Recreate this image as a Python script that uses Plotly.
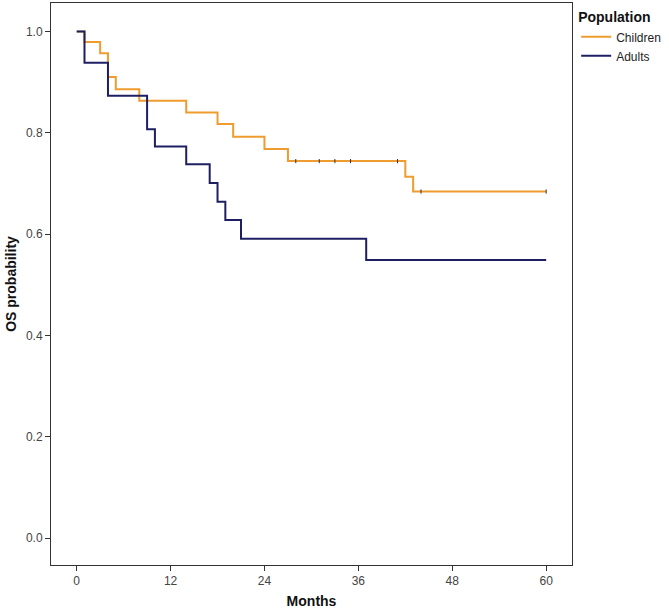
import plotly.graph_objects as go

# Kaplan-Meier step data
children_t = [0, 1, 3, 4, 5, 8, 14, 18, 20, 24, 27, 42, 43, 60]
children_s = [1.0, 0.979, 0.957, 0.910, 0.886, 0.863, 0.840, 0.817, 0.792, 0.768, 0.744, 0.713, 0.684, 0.684]
children_cens_t = [28, 31, 33, 35, 41, 44, 60]
children_cens_s = [0.744, 0.744, 0.744, 0.744, 0.744, 0.684, 0.684]

adults_t = [0, 1, 4, 9, 10, 14, 17, 18, 19, 21, 37, 60]
adults_s = [1.0, 0.938, 0.873, 0.807, 0.773, 0.738, 0.701, 0.664, 0.628, 0.591, 0.549, 0.549]

x_ticks = [0, 12, 24, 36, 48, 60]
y_ticks = [0.0, 0.2, 0.4, 0.6, 0.8, 1.0]

ORANGE = "#EE9C2E"
NAVY = "#1E1F63"

fig = go.Figure()
fig.add_trace(go.Scatter(x=children_t, y=children_s, mode="lines", line_shape="hv",
                         line=dict(color=ORANGE, width=2), name="Children"))
fig.add_trace(go.Scatter(x=adults_t, y=adults_s, mode="lines", line_shape="hv",
                         line=dict(color=NAVY, width=2), name="Adults"))
fig.add_trace(go.Scatter(x=children_cens_t, y=children_cens_s, mode="markers",
                         marker=dict(symbol="line-ns-open", size=3, color="#333333",
                                     line=dict(color="#333333", width=1)),
                         showlegend=False, hoverinfo="skip"))

fig.update_layout(
    width=669, height=610,
    margin=dict(l=51, r=91, t=3, b=45),
    plot_bgcolor="white", paper_bgcolor="white",
    font=dict(family="Liberation Sans, Arial, sans-serif", size=12, color="#444444"),
    showlegend=True,
    legend=dict(
        title=dict(text="<b>Population</b>", font=dict(size=14, color="#111111")),
        x=1.008, y=0.998, xanchor="left", yanchor="top",
        font=dict(size=12, color="#222222"),
        bgcolor="rgba(0,0,0,0)", tracegroupgap=0, itemwidth=30,
    ),
    xaxis=dict(
        range=[-3.28, 63.3], tickvals=x_ticks, ticktext=[str(v) for v in x_ticks],
        showgrid=False, zeroline=False, showline=True, linecolor="#333333", linewidth=1,
        mirror=True, ticks="outside", ticklen=5, tickcolor="#333333",
        title=dict(text="<b>Months</b>", font=dict(size=14, color="#111111"), standoff=8),
    ),
    yaxis=dict(
        range=[-0.053, 1.056], tickvals=y_ticks, ticktext=[f"{v:.1f}" for v in y_ticks],
        showgrid=False, zeroline=False, showline=True, linecolor="#333333", linewidth=1,
        mirror=True, ticks="outside", ticklen=5, tickcolor="#333333",
        title=dict(text="<b>OS probability</b>", font=dict(size=14, color="#111111"), standoff=6),
    ),
)

fig.write_html("out.html")
